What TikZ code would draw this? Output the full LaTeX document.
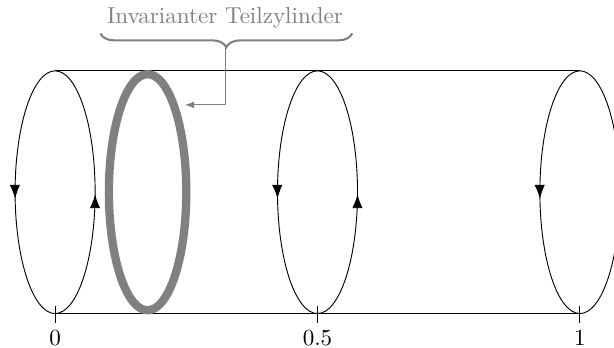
\documentclass[tikz,border=0pt]{standalone}
\usepackage{amssymb,amsmath}
\usetikzlibrary{arrows.meta,decorations.markings,decorations.pathreplacing}

\begin{document}
\begin{tikzpicture}[
        loop/.style={postaction={decorate},decoration={markings,
            mark=at position 0.512 with {\arrow{Latex[length=6pt,width=4.5pt]}},
            mark=at position 0.996 with {\arrow{Latex[length=6pt,width=4.5pt]}}}},
        invar/.style={draw=gray,line width=3.6pt},
        note/.style={gray}]

    % visible window
    \clip (-0.84,-2.36) rectangle (8.52,2.93);

    % cylinder mantle
    \draw (0,1.85) -- (8,1.85);
    \draw (0,-1.85) -- (8,-1.85);

    % cross sections with orientation
    \foreach \x/\t in {0/0, 4/0.5, 8/1} {
        \draw[loop] (\x,0) ellipse (0.61 and 1.85);
        \draw (\x,-1.73) -- (\x,-1.99) node[below] (t\x) {$\t$};
    }

    % invariant sub-cylinder
    \draw[invar] (1.41,0) ellipse (0.59 and 1.8);

    % label with brace
    \node[note] (lbl) at (2.59,2.65) {Invarianter Teilzylinder};
    \draw[note,line width=0.9pt,decorate,decoration={brace,amplitude=6pt}]
        (4.53,2.42) -- (0.69,2.42);
    \coordinate (tip) at (2.59,2.2);
    \coordinate (tgt) at (1.98,1.33);
    \draw[note,-{Latex[length=4pt,width=3pt]}] (tip) |- (tgt);

\end{tikzpicture}
\end{document}
